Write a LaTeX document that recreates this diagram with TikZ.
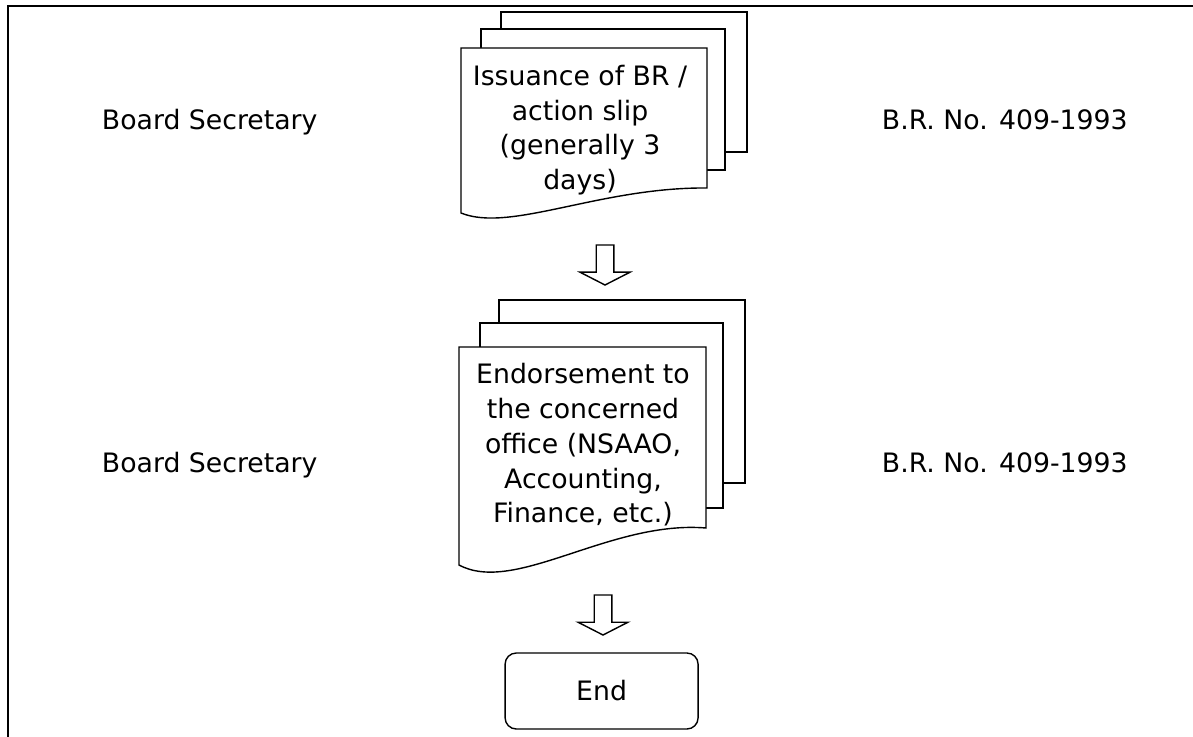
\documentclass[tikz,border=0pt]{standalone}
\usepackage{fontspec}
\setmainfont{DejaVu Sans}
\usetikzlibrary{positioning}

\begin{document}
\begin{tikzpicture}[
    page/.style={draw, line width=1pt, fill=white},
    doctext/.style={align=center, font=\fontsize{19}{24.7}\selectfont},
    side/.style={anchor=base west, font=\fontsize{19}{24.7}\selectfont},
    endbox/.style={draw, line width=1pt, rounded corners=0.28cm, minimum width=4.825cm, minimum height=1.9cm, font=\fontsize{19}{24.7}\selectfont},
    downarrow/.pic={\draw[line width=1pt, fill=white] (-0.22,0.5) -- (-0.22,-0.18) -- (-0.625,-0.18) -- (0,-0.5) -- (0.625,-0.18) -- (0.22,-0.18) -- (0.22,0.5) -- cycle;}
]
    \useasboundingbox (0,0) rectangle (29.825,-18.425);

    % Frame (only top and left edges show)
    \draw[line width=1.4pt] (0.2,-18.425) -- (0.2,-0.15) -- (29.825,-0.15);

    % First document stack
    \begin{scope}[shift={(11.525,-1.2)}]
        \draw[page] (1.0,0.9) rectangle ++(6.15,-3.5);
        \draw[page] (0.5,0.475) rectangle ++(6.1,-3.525);
        \draw[page] (0,0) -- (0,-4.125) .. controls (1.225,-4.625) and (3.475,-3.475) .. (6.15,-3.5) -- (6.15,0) -- cycle;
    \end{scope}
    \node[doctext] (issue) at (14.5,-3.25) {Issuance of BR /\\action slip\\(generally 3\\days)};

    % Second document stack
    \begin{scope}[shift={(11.475,-8.675)}]
        \draw[page] (1.0,1.175) rectangle ++(6.15,-4.575);
        \draw[page] (0.525,0.6) rectangle ++(6.075,-4.625);
        \draw[page] (0,0) -- (0,-5.45) .. controls (1.4,-6.2) and (3.775,-4.325) .. (6.175,-4.525) -- (6.175,0) -- cycle;
    \end{scope}
    \node[doctext] (endorse) at (14.575,-11.125) {Endorsement to\\the concerned\\office (NSAAO,\\Accounting,\\Finance, etc.)};

    % End
    \node[endbox] (finish) at (15.04,-17.275) {End};

    % Block arrows
    \pic at (15.125,-6.625) {downarrow};
    \pic at (15.075,-15.375) {downarrow};

    % Side labels
    \node[side] (sec1) at (2.425,-3.25) {Board Secretary};
    \node[side] (sec2) at (2.425,-11.8) {Board Secretary};
    \node[side] (br1) at (21.925,-3.25) {B.R. No. 409-1993};
    \node[side] (br2) at (21.925,-11.8) {B.R. No. 409-1993};
\end{tikzpicture}
\end{document}
